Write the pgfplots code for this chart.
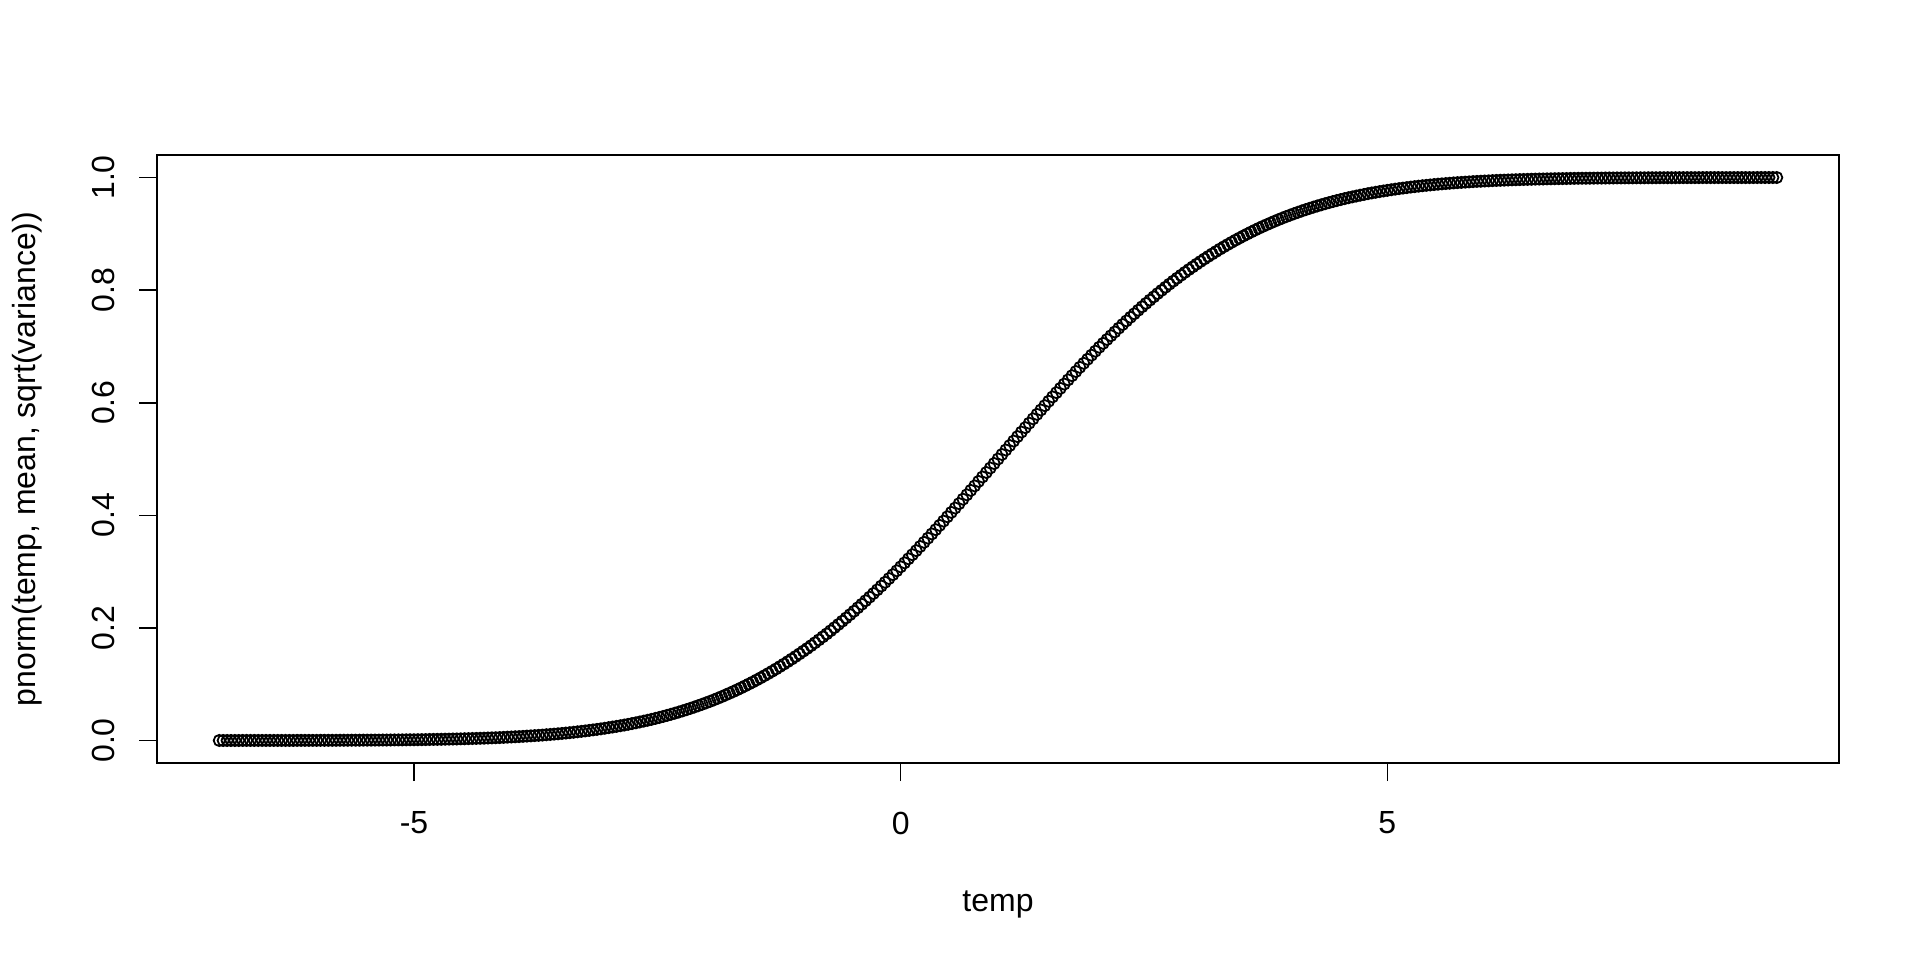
\documentclass[border=0pt]{standalone}
\usepackage{pgfplots}
\pgfplotsset{compat=1.18}
\usepackage{pgfplotstable}
\usepackage{fontspec}
\setmainfont{Liberation Sans}

% pnorm(temp, mean, sqrt(variance)), temp from -7 to 9
\pgfplotstableread{
x y
-7.00 0.0000
-6.96 0.0000
-6.92 0.0000
-6.88 0.0000
-6.84 0.0000
-6.80 0.0000
-6.76 0.0001
-6.72 0.0001
-6.68 0.0001
-6.64 0.0001
-6.60 0.0001
-6.56 0.0001
-6.52 0.0001
-6.48 0.0001
-6.44 0.0001
-6.40 0.0001
-6.36 0.0001
-6.32 0.0001
-6.28 0.0001
-6.24 0.0001
-6.20 0.0002
-6.16 0.0002
-6.12 0.0002
-6.08 0.0002
-6.04 0.0002
-6.00 0.0002
-5.96 0.0003
-5.92 0.0003
-5.88 0.0003
-5.84 0.0003
-5.80 0.0003
-5.76 0.0004
-5.72 0.0004
-5.68 0.0004
-5.64 0.0005
-5.60 0.0005
-5.56 0.0005
-5.52 0.0006
-5.48 0.0006
-5.44 0.0006
-5.40 0.0007
-5.36 0.0007
-5.32 0.0008
-5.28 0.0008
-5.24 0.0009
-5.20 0.0010
-5.16 0.0010
-5.12 0.0011
-5.08 0.0012
-5.04 0.0013
-5.00 0.0013
-4.96 0.0014
-4.92 0.0015
-4.88 0.0016
-4.84 0.0018
-4.80 0.0019
-4.76 0.0020
-4.72 0.0021
-4.68 0.0023
-4.64 0.0024
-4.60 0.0026
-4.56 0.0027
-4.52 0.0029
-4.48 0.0031
-4.44 0.0033
-4.40 0.0035
-4.36 0.0037
-4.32 0.0039
-4.28 0.0041
-4.24 0.0044
-4.20 0.0047
-4.16 0.0049
-4.12 0.0052
-4.08 0.0055
-4.04 0.0059
-4.00 0.0062
-3.96 0.0066
-3.92 0.0069
-3.88 0.0073
-3.84 0.0078
-3.80 0.0082
-3.76 0.0087
-3.72 0.0091
-3.68 0.0096
-3.64 0.0102
-3.60 0.0107
-3.56 0.0113
-3.52 0.0119
-3.48 0.0125
-3.44 0.0132
-3.40 0.0139
-3.36 0.0146
-3.32 0.0154
-3.28 0.0162
-3.24 0.0170
-3.20 0.0179
-3.16 0.0188
-3.12 0.0197
-3.08 0.0207
-3.04 0.0217
-3.00 0.0228
-2.96 0.0239
-2.92 0.0250
-2.88 0.0262
-2.84 0.0274
-2.80 0.0287
-2.76 0.0301
-2.72 0.0314
-2.68 0.0329
-2.64 0.0344
-2.60 0.0359
-2.56 0.0375
-2.52 0.0392
-2.48 0.0409
-2.44 0.0427
-2.40 0.0446
-2.36 0.0465
-2.32 0.0485
-2.28 0.0505
-2.24 0.0526
-2.20 0.0548
-2.16 0.0571
-2.12 0.0594
-2.08 0.0618
-2.04 0.0643
-2.00 0.0668
-1.96 0.0694
-1.92 0.0721
-1.88 0.0749
-1.84 0.0778
-1.80 0.0808
-1.76 0.0838
-1.72 0.0869
-1.68 0.0901
-1.64 0.0934
-1.60 0.0968
-1.56 0.1003
-1.52 0.1038
-1.48 0.1075
-1.44 0.1112
-1.40 0.1151
-1.36 0.1190
-1.32 0.1230
-1.28 0.1271
-1.24 0.1314
-1.20 0.1357
-1.16 0.1401
-1.12 0.1446
-1.08 0.1492
-1.04 0.1539
-1.00 0.1587
-0.96 0.1635
-0.92 0.1685
-0.88 0.1736
-0.84 0.1788
-0.80 0.1841
-0.76 0.1894
-0.72 0.1949
-0.68 0.2005
-0.64 0.2061
-0.60 0.2119
-0.56 0.2177
-0.52 0.2236
-0.48 0.2296
-0.44 0.2358
-0.40 0.2420
-0.36 0.2483
-0.32 0.2546
-0.28 0.2611
-0.24 0.2676
-0.20 0.2743
-0.16 0.2810
-0.12 0.2877
-0.08 0.2946
-0.04 0.3015
0.00 0.3085
0.04 0.3156
0.08 0.3228
0.12 0.3300
0.16 0.3372
0.20 0.3446
0.24 0.3520
0.28 0.3594
0.32 0.3669
0.36 0.3745
0.40 0.3821
0.44 0.3897
0.48 0.3974
0.52 0.4052
0.56 0.4129
0.60 0.4207
0.64 0.4286
0.68 0.4364
0.72 0.4443
0.76 0.4522
0.80 0.4602
0.84 0.4681
0.88 0.4761
0.92 0.4840
0.96 0.4920
1.00 0.5000
1.04 0.5080
1.08 0.5160
1.12 0.5239
1.16 0.5319
1.20 0.5398
1.24 0.5478
1.28 0.5557
1.32 0.5636
1.36 0.5714
1.40 0.5793
1.44 0.5871
1.48 0.5948
1.52 0.6026
1.56 0.6103
1.60 0.6179
1.64 0.6255
1.68 0.6331
1.72 0.6406
1.76 0.6480
1.80 0.6554
1.84 0.6628
1.88 0.6700
1.92 0.6772
1.96 0.6844
2.00 0.6915
2.04 0.6985
2.08 0.7054
2.12 0.7123
2.16 0.7190
2.20 0.7257
2.24 0.7324
2.28 0.7389
2.32 0.7454
2.36 0.7517
2.40 0.7580
2.44 0.7642
2.48 0.7704
2.52 0.7764
2.56 0.7823
2.60 0.7881
2.64 0.7939
2.68 0.7995
2.72 0.8051
2.76 0.8106
2.80 0.8159
2.84 0.8212
2.88 0.8264
2.92 0.8315
2.96 0.8365
3.00 0.8413
3.04 0.8461
3.08 0.8508
3.12 0.8554
3.16 0.8599
3.20 0.8643
3.24 0.8686
3.28 0.8729
3.32 0.8770
3.36 0.8810
3.40 0.8849
3.44 0.8888
3.48 0.8925
3.52 0.8962
3.56 0.8997
3.60 0.9032
3.64 0.9066
3.68 0.9099
3.72 0.9131
3.76 0.9162
3.80 0.9192
3.84 0.9222
3.88 0.9251
3.92 0.9279
3.96 0.9306
4.00 0.9332
4.04 0.9357
4.08 0.9382
4.12 0.9406
4.16 0.9429
4.20 0.9452
4.24 0.9474
4.28 0.9495
4.32 0.9515
4.36 0.9535
4.40 0.9554
4.44 0.9573
4.48 0.9591
4.52 0.9608
4.56 0.9625
4.60 0.9641
4.64 0.9656
4.68 0.9671
4.72 0.9686
4.76 0.9699
4.80 0.9713
4.84 0.9726
4.88 0.9738
4.92 0.9750
4.96 0.9761
5.00 0.9772
5.04 0.9783
5.08 0.9793
5.12 0.9803
5.16 0.9812
5.20 0.9821
5.24 0.9830
5.28 0.9838
5.32 0.9846
5.36 0.9854
5.40 0.9861
5.44 0.9868
5.48 0.9875
5.52 0.9881
5.56 0.9887
5.60 0.9893
5.64 0.9898
5.68 0.9904
5.72 0.9909
5.76 0.9913
5.80 0.9918
5.84 0.9922
5.88 0.9927
5.92 0.9931
5.96 0.9934
6.00 0.9938
6.04 0.9941
6.08 0.9945
6.12 0.9948
6.16 0.9951
6.20 0.9953
6.24 0.9956
6.28 0.9959
6.32 0.9961
6.36 0.9963
6.40 0.9965
6.44 0.9967
6.48 0.9969
6.52 0.9971
6.56 0.9973
6.60 0.9974
6.64 0.9976
6.68 0.9977
6.72 0.9979
6.76 0.9980
6.80 0.9981
6.84 0.9982
6.88 0.9984
6.92 0.9985
6.96 0.9986
7.00 0.9987
7.04 0.9987
7.08 0.9988
7.12 0.9989
7.16 0.9990
7.20 0.9990
7.24 0.9991
7.28 0.9992
7.32 0.9992
7.36 0.9993
7.40 0.9993
7.44 0.9994
7.48 0.9994
7.52 0.9994
7.56 0.9995
7.60 0.9995
7.64 0.9995
7.68 0.9996
7.72 0.9996
7.76 0.9996
7.80 0.9997
7.84 0.9997
7.88 0.9997
7.92 0.9997
7.96 0.9997
8.00 0.9998
8.04 0.9998
8.08 0.9998
8.12 0.9998
8.16 0.9998
8.20 0.9998
8.24 0.9999
8.28 0.9999
8.32 0.9999
8.36 0.9999
8.40 0.9999
8.44 0.9999
8.48 0.9999
8.52 0.9999
8.56 0.9999
8.60 0.9999
8.64 0.9999
8.68 0.9999
8.72 0.9999
8.76 0.9999
8.80 1.0000
8.84 1.0000
8.88 1.0000
8.92 1.0000
8.96 1.0000
9.00 1.0000
}\cdfdata

\begin{document}
\begin{tikzpicture}[font=\fontsize{16}{19}\selectfont]
\useasboundingbox (0,0) rectangle (960pt,480pt);
\begin{axis}[
    at={(78.5pt,98.5pt)}, anchor=south west,
    scale only axis,
    width=841pt, height=304pt,
    xmin=-7.64, xmax=9.64,
    ymin=-0.04, ymax=1.04,
    axis line style={line width=0.8pt},
    tick style={line width=0.8pt, black},
    tick align=outside,
    major tick length=9pt,
    xtick pos=bottom, ytick pos=left,
    xtick={-5,0,5},
    xticklabels={-5,0,5},
    ytick={0,0.2,0.4,0.6,0.8,1},
    yticklabels={0.0,0.2,0.4,0.6,0.8,1.0},
    tick label style={font=\fontsize{16}{19}\selectfont},
    xticklabel style={anchor=center, yshift=-21pt},
    yticklabel style={xshift=-18pt, rotate=90, anchor=center},
    xlabel={temp},
    ylabel={pnorm(temp, mean, sqrt(variance))},
    label style={font=\fontsize{16}{19}\selectfont},
    xlabel style={at={(axis description cs:0.5,-0.233)}, anchor=center},
    ylabel style={at={(axis description cs:-0.0773,0.5)}, anchor=center},
]
\addplot[only marks, mark=o, mark size=2.8pt, line width=0.9pt, black] table {\cdfdata};
\end{axis}
\end{tikzpicture}
\end{document}
